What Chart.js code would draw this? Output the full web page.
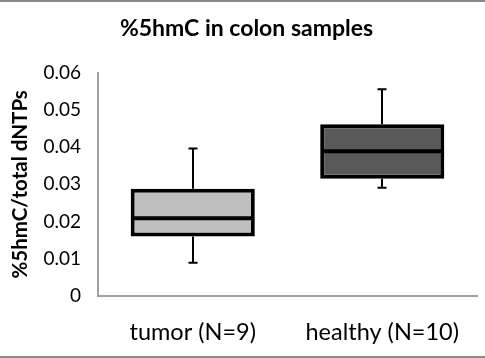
<!DOCTYPE html>
<html>
<head>
<meta charset="utf-8">
<script src="https://cdn.jsdelivr.net/npm/chart.js@4"></script>
<style>
  html, body { margin: 0; padding: 0; background: #fff; }
  #wrap { position: relative; width: 485px; height: 358px; overflow: hidden; }
  #c { position: absolute; left: 0; top: 0; }
  .rule { position: absolute; left: 0; width: 485px; height: 2px; background: #8a8a8a; }
</style>
</head>
<body>
<div id="wrap">
  <canvas id="c" width="485" height="358"></canvas>
  <div class="rule" style="top:0"></div>
  <div class="rule" style="top:356px"></div>
</div>
<script>
const categories = ['tumor (N=9)', 'healthy (N=10)'];
const whiskerMin = [0.0089, 0.0291];
const q1 = [0.0160, 0.0315];
const median = [0.0209, 0.0389];
const q3 = [0.0288, 0.0461];
const whiskerMax = [0.0396, 0.0555];
const boxColors = ['#bfbfbf', '#595959'];
const yTickLabels = ['0', '0.01', '0.02', '0.03', '0.04', '0.05', '0.06'];

const FONT = 'Lato, "Open Sans", sans-serif';

const boxPlugin = {
  id: 'boxParts',
  beforeDatasetsDraw(chart) {
    const { ctx, scales: { y } } = chart;
    const meta = chart.getDatasetMeta(0);
    ctx.save();
    ctx.strokeStyle = '#000';
    ctx.lineWidth = 2;
    meta.data.forEach((bar, i) => {
      const cx = Math.round(bar.x);
      const yMin = y.getPixelForValue(whiskerMin[i]);
      const yMax = y.getPixelForValue(whiskerMax[i]);
      const yQ1 = y.getPixelForValue(q1[i]);
      const yQ3 = y.getPixelForValue(q3[i]);
      ctx.beginPath();
      ctx.moveTo(cx, yMax); ctx.lineTo(cx, yQ3);
      ctx.moveTo(cx, yQ1); ctx.lineTo(cx, yMin);
      ctx.moveTo(cx - 4.5, yMax); ctx.lineTo(cx + 4.5, yMax);
      ctx.moveTo(cx - 4.5, yMin); ctx.lineTo(cx + 4.5, yMin);
      ctx.stroke();
    });
    ctx.restore();
  },
  afterDatasetsDraw(chart) {
    const { ctx, scales: { y } } = chart;
    const meta = chart.getDatasetMeta(0);
    ctx.save();
    ctx.strokeStyle = '#000';
    ctx.lineWidth = 4;
    meta.data.forEach((bar, i) => {
      const half = bar.width / 2;
      const ym = y.getPixelForValue(median[i]);
      ctx.beginPath();
      ctx.moveTo(bar.x - half + 2, ym);
      ctx.lineTo(bar.x + half - 2, ym);
      ctx.stroke();
    });
    ctx.restore();
  }
};

new Chart(document.getElementById('c'), {
  type: 'bar',
  data: {
    labels: categories,
    datasets: [{
      data: categories.map((_, i) => [q1[i], q3[i]]),
      backgroundColor: boxColors,
      borderColor: '#000',
      borderWidth: 4,
      borderSkipped: false,
      categoryPercentage: 1,
      barPercentage: 0.655
    }]
  },
  options: {
    responsive: false,
    animation: false,
    devicePixelRatio: 1,
    layout: { padding: { left: 16, right: 8, top: 0, bottom: 0 } },
    plugins: {
      legend: { display: false },
      tooltip: { enabled: false },
      title: {
        display: true,
        text: '%5hmC in colon samples',
        color: '#000',
        font: { family: FONT, size: 23, weight: 'bold' },
        padding: { top: 15, bottom: 30 }
      }
    },
    scales: {
      x: {
        grid: { display: false, drawTicks: false },
        border: { display: true, color: '#a0a0a0', width: 2 },
        ticks: { color: '#000', font: { family: FONT, size: 23.5 }, padding: 22, maxRotation: 0 },
        afterFit(s) { s.height = 62; }
      },
      y: {
        min: 0, max: 0.06,
        grid: { display: false, drawTicks: false },
        border: { display: true, color: '#a0a0a0', width: 2 },
        ticks: {
          stepSize: 0.01,
          color: '#000',
          font: { family: FONT, size: 19 },
          padding: 17,
          callback: (v, i) => yTickLabels[i]
        },
        title: {
          display: true,
          text: '%5hmC/total dNTPs',
          color: '#000',
          font: { family: FONT, size: 20.5, weight: 'bold' },
          padding: { top: -8, bottom: 0 }
        },
        afterFit(s) { s.width = 82; }
      }
    }
  },
  plugins: [boxPlugin]
});
</script>
</body>
</html>
